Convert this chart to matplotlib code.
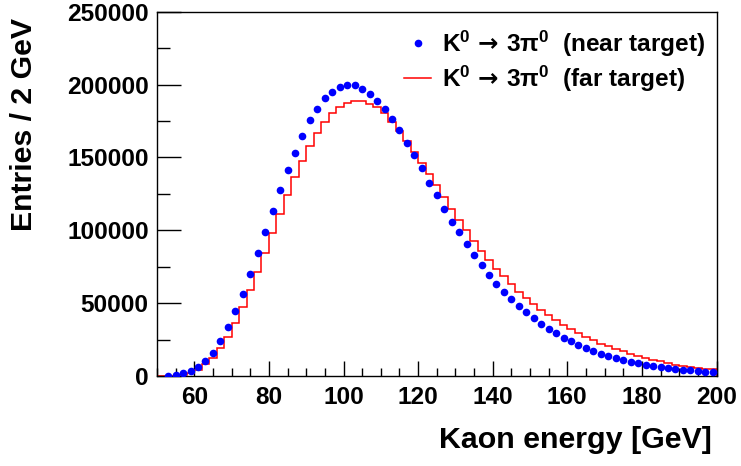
import numpy as np
import matplotlib
matplotlib.use("Agg")
import matplotlib.pyplot as plt
from matplotlib.ticker import MultipleLocator

plt.rcParams['font.family'] = ['Liberation Sans', 'DejaVu Sans']
plt.rcParams['font.weight'] = 'bold'
plt.rcParams['mathtext.fontset'] = 'custom'
plt.rcParams['mathtext.rm'] = 'Liberation Sans:bold'
plt.rcParams['mathtext.it'] = 'Liberation Sans:bold'
plt.rcParams['mathtext.bf'] = 'Liberation Sans:bold'
plt.rcParams['mathtext.sf'] = 'DejaVu Sans'

# 2 GeV bins from 50 to 200 GeV
bin_edges = np.arange(50, 202, 2)
bin_centers = np.arange(51, 201, 2)

near_target = [np.nan, 300, 600, 1800, 3500, 6200, 10000, 16100, 23900, 33500,
               44500, 56200, 69800, 84200, 98600, 113500, 127900, 141600, 153300, 165000,
               176000, 183000, 191000, 195200, 198100, 200000, 199500, 197000, 193600, 188500,
               183000, 176600, 168600, 160000, 151700, 142500, 132200, 124100, 114700, 106000,
               98700, 90600, 82900, 76200, 69600, 63200, 57500, 52600, 47800, 43700,
               39600, 36000, 32500, 29300, 26400, 24300, 21500, 19500, 17100, 15400,
               14000, 12300, 11100, 9700, 8800, 7400, 6700, 6100, 5400, 4800,
               4300, 3800, 3400, 3000, 2500]

far_target = [0, 100, 300, 800, 2000, 4300, 8100, 12600, 19000, 27100,
              36600, 47400, 59000, 71600, 84700, 97900, 111400, 124200, 136400, 147600,
              158100, 167000, 174600, 180300, 184400, 187600, 188800, 188700, 186700, 184400,
              180300, 174300, 168200, 161500, 154000, 146500, 138800, 130800, 122500, 114600,
              107100, 100000, 92500, 86100, 79700, 73700, 68400, 63200, 57900, 53300,
              49400, 45400, 42000, 38600, 35300, 32300, 29600, 26900, 24600, 22300,
              20300, 18600, 16900, 15400, 13800, 12500, 11200, 10000, 8800, 7800,
              6900, 6100, 5500, 5000, 4500]

label_near = r'$\mathbf{K^0}\,\mathsf{\rightarrow}\,\mathbf{3\pi^0}$  (near target)'
label_far = r'$\mathbf{K^0}\,\mathsf{\rightarrow}\,\mathbf{3\pi^0}$  (far target)'

fig = plt.figure(figsize=(7.41, 4.66), dpi=100)
ax = fig.add_axes([157/741, 1 - 376/466, (716.5 - 157)/741, (376 - 11.7)/466])

ax.stairs(far_target, bin_edges, color=(1, 0, 0), linewidth=1.1, label=label_far, zorder=2)
ax.plot(bin_centers, near_target, 'o', color=(0, 0, 1), markersize=5.5, markeredgewidth=0,
        label=label_near, zorder=3)

ax.set_xlim(50, 200)
ax.set_ylim(0, 250000)

ax.xaxis.set_major_locator(MultipleLocator(20))
ax.xaxis.set_minor_locator(MultipleLocator(5))
ax.yaxis.set_major_locator(MultipleLocator(50000))
ax.yaxis.set_minor_locator(MultipleLocator(25000))
ax.set_xticks([60, 80, 100, 120, 140, 160, 180, 200])

ax.tick_params(axis='x', which='major', direction='in', length=11, width=1, labelsize=17.6, pad=7)
ax.tick_params(axis='x', which='minor', direction='in', length=6, width=1)
ax.tick_params(axis='y', which='major', direction='in', length=17, width=1, labelsize=17.6, pad=6)
ax.tick_params(axis='y', which='minor', direction='in', length=9, width=1)
for lab in ax.get_xticklabels() + ax.get_yticklabels():
    lab.set_fontweight('bold')

for s in ax.spines.values():
    s.set_linewidth(1)

ax.set_xlabel('Kaon energy [GeV]', fontsize=21.9, fontweight='bold', ha='right', va='center')
ax.xaxis.set_label_coords((712 - 157) / 559.5, (376 - 440) / 364.3)
ax.set_ylabel('Entries / 2 GeV', fontsize=21.8, fontweight='bold', ha='right', va='center')
ax.yaxis.set_label_coords((24 - 157) / 559.5, (376 - 18) / 364.3)

handles, labels = ax.get_legend_handles_labels()
leg = ax.legend(handles[::-1], labels[::-1], loc='upper right', bbox_to_anchor=(1.011, 1.0),
                frameon=False, prop={'family': 'Liberation Sans', 'weight': 'bold', 'size': 17.6},
                handlelength=1.1, handletextpad=0.45, labelspacing=0.2, borderaxespad=0.3,
                numpoints=1)

fig.savefig('out.png', dpi=100)
